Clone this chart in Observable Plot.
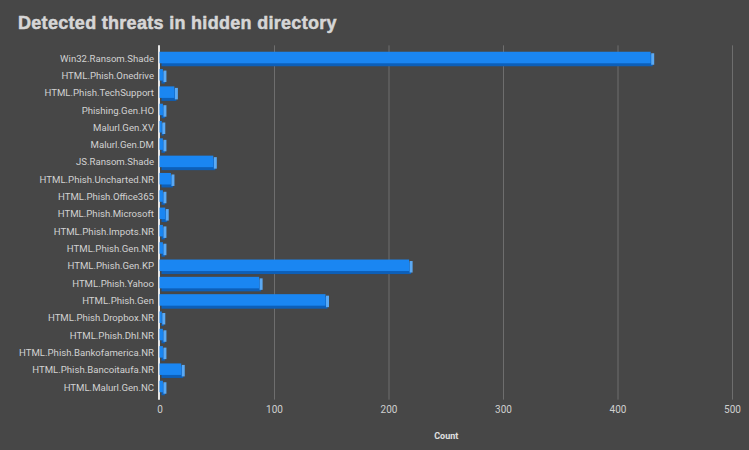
<!DOCTYPE html>
<html>
<head>
<meta charset="utf-8">
<script src="https://cdn.jsdelivr.net/npm/d3@7"></script>
<script src="https://cdn.jsdelivr.net/npm/@observablehq/plot@0.6"></script>
<style>
  html, body { margin: 0; padding: 0; background: #474747; }
  body { width: 749px; height: 450px; overflow: hidden; }
  #title { height: 40px; box-sizing: border-box; padding: 14px 0 0 18px; font: bold 18px/1 "Liberation Sans", Arial, sans-serif; color: #d6d6d6; letter-spacing: 0.3px; -webkit-text-stroke: 0.5px #d6d6d6; }
  svg { display: block; }
</style>
</head>
<body>
<div id="title">Detected threats in hidden directory</div>
<div id="chart"></div>
<script>
const threats = [
  "Win32.Ransom.Shade", "HTML.Phish.Onedrive", "HTML.Phish.TechSupport", "Phishing.Gen.HO",
  "Malurl.Gen.XV", "Malurl.Gen.DM", "JS.Ransom.Shade", "HTML.Phish.Uncharted.NR",
  "HTML.Phish.Office365", "HTML.Phish.Microsoft", "HTML.Phish.Impots.NR", "HTML.Phish.Gen.NR",
  "HTML.Phish.Gen.KP", "HTML.Phish.Yahoo", "HTML.Phish.Gen", "HTML.Phish.Dropbox.NR",
  "HTML.Phish.Dhl.NR", "HTML.Phish.Bankofamerica.NR", "HTML.Phish.Bancoitaufa.NR", "HTML.Malurl.Gen.NC"
];
const counts = [429, 3, 13, 3, 2, 3, 47, 10, 3, 5, 3, 3, 218, 87, 145, 2, 3, 3, 19, 3];
const xTicks = [0, 100, 200, 300, 400, 500];
const axisTitle = "Count";

const data = threats.map((t, i) => ({threat: t, count: counts[i]}));

const chart = Plot.plot({
  width: 749,
  height: 410,
  marginLeft: 159.5,
  marginRight: 17,
  marginTop: 9.35,
  marginBottom: 54.35,
  style: {background: "#474747", color: "#cfcfcf", fontFamily: "Roboto, sans-serif", fontSize: "10px"},
  x: {domain: [0, 500], ticks: xTicks},
  y: {domain: threats, padding: 0, round: false},
  marks: [
    Plot.gridX(xTicks.filter(d => d > 0), {stroke: "#6e6e6e", strokeOpacity: 1, strokeWidth: 1, insetTop: -4, insetBottom: -4}),
    Plot.ruleX([0], {stroke: "#e6e6e6", strokeWidth: 2, dx: -1, insetTop: -4, insetBottom: -4}),
    Plot.barX(data, {y: "threat", x: "count", fill: "#0d5fb8", insetTop: 2.4, insetBottom: 3.4, dx: 2, dy: 3}),
    Plot.tickX(data, {y: "threat", x: "count", stroke: "#5aa9f4", strokeWidth: 3, dx: 1.5, dy: 1.5, insetTop: 2.4, insetBottom: 3.4}),
    Plot.barX(data, {y: "threat", x: "count", fill: "#1a86f2", insetTop: 2.4, insetBottom: 3.4}),
    Plot.axisY({tickSize: 0, tickPadding: 6, label: null, fill: "#d2d2d2", fontSize: 9.6}),
    Plot.axisX({ticks: xTicks, tickSize: 0, tickPadding: 10, label: null, fill: "#cfcfcf", fontSize: 10}),
    Plot.text([axisTitle], {frameAnchor: "bottom", dy: 40, text: d => d, fill: "#e0e0e0", fontWeight: "bold", fontSize: 9, lineAnchor: "middle"})
  ]
});
document.getElementById("chart").appendChild(chart);
</script>
</body>
</html>
